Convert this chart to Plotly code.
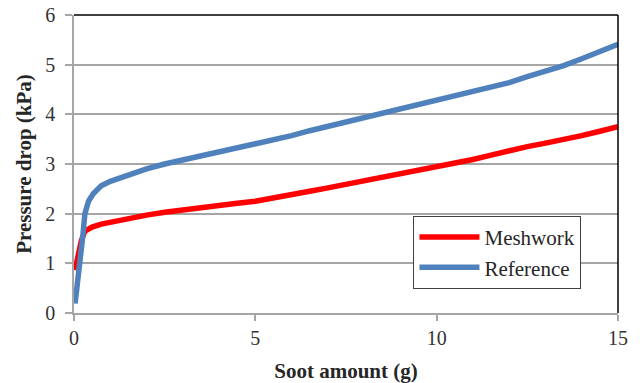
import plotly.graph_objects as go

# Soot loading (g) and measured pressure drop (kPa)
soot_ref = [0.03, 0.1, 0.17, 0.25, 0.3, 0.4, 0.53, 0.75, 1.0, 1.5, 2.0, 2.5, 3.0, 3.5,
            4.0, 4.5, 5.0, 5.5, 6.0, 6.5, 7.0, 7.5, 8.0, 8.5, 9.0, 9.5, 10.0, 10.5,
            11.0, 11.5, 12.0, 12.5, 13.0, 13.5, 14.0, 14.5, 15.0]
dp_ref = [0.19, 0.6, 1.0, 1.6, 2.0, 2.25, 2.4, 2.56, 2.65, 2.78, 2.9, 3.0, 3.08, 3.16,
          3.24, 3.31, 3.39, 3.48, 3.57, 3.67, 3.76, 3.85, 3.94, 4.03, 4.12, 4.2, 4.28,
          4.37, 4.46, 4.55, 4.64, 4.76, 4.87, 4.98, 5.12, 5.27, 5.41]

soot_mesh = [0.03, 0.1, 0.2, 0.3, 0.5, 0.75, 1.0, 1.5, 2.0, 2.5, 3.0, 3.5, 4.0, 4.5,
             5.0, 5.5, 6.0, 6.5, 7.0, 7.5, 8.0, 8.5, 9.0, 9.5, 10.0, 10.5, 11.0, 11.5,
             12.0, 12.5, 13.0, 13.5, 14.0, 14.5, 15.0]
dp_mesh = [0.86, 1.15, 1.45, 1.65, 1.73, 1.79, 1.83, 1.9, 1.97, 2.03, 2.08, 2.13, 2.17,
           2.21, 2.25, 2.31, 2.38, 2.45, 2.52, 2.59, 2.66, 2.73, 2.8, 2.87, 2.93, 3.0,
           3.09, 3.18, 3.27, 3.35, 3.42, 3.49, 3.57, 3.66, 3.75]

x_ticks = [0, 5, 10, 15]
y_ticks = [0, 1, 2, 3, 4, 5, 6]

FONT = "Liberation Serif"
GRID = "#a6a6a6"
TEXT = "#262626"

fig = go.Figure()
fig.add_trace(go.Scatter(x=soot_mesh, y=dp_mesh, mode="lines", name="Meshwork",
                         line=dict(color="#ff0000", width=5.5)))
fig.add_trace(go.Scatter(x=soot_ref, y=dp_ref, mode="lines", name="Reference",
                         line=dict(color="#4f81bd", width=5.5)))

fig.update_layout(
    width=640, height=383,
    margin=dict(l=74, r=22, t=15, b=70),
    paper_bgcolor="white", plot_bgcolor="white",
    font=dict(family=FONT, size=20, color="#333333"),
    showlegend=True,
    legend=dict(x=0.624, y=0.326, xanchor="left", yanchor="top",
                bgcolor="white", bordercolor="#404040", borderwidth=1,
                font=dict(family=FONT, size=21, color=TEXT),
                tracegroupgap=0, itemwidth=60),
    xaxis=dict(range=[0, 15], tickvals=x_ticks, showgrid=False, zeroline=False,
               automargin=False,
               showline=True, linecolor=GRID, linewidth=1.5,
               ticks="outside", ticklen=6, tickcolor=GRID, tickwidth=1.5,
               tickfont=dict(family=FONT, size=20, color="#333333"),
               title=dict(text="<b>Soot amount (g)</b>", standoff=16,
                          font=dict(family=FONT, size=21, color=TEXT))),
    yaxis=dict(range=[0, 6], tickvals=y_ticks, showgrid=True, gridcolor=GRID,
               gridwidth=1.5, zeroline=False, automargin=False,
               showline=True, linecolor=GRID, linewidth=1.5,
               ticks="outside", ticklen=7, tickcolor=GRID, tickwidth=1.5,
               ticklabelstandoff=6,
               tickfont=dict(family=FONT, size=20, color="#333333"),
               title=dict(text="<b>Pressure drop (kPa)</b>", standoff=8,
                          font=dict(family=FONT, size=21, color=TEXT))),
    shapes=[
        dict(type="line", xref="paper", yref="paper", x0=0, x1=1, y0=1, y1=1,
             line=dict(color="#000000", width=1.5)),
        dict(type="line", xref="paper", yref="paper", x0=1, x1=1, y0=0, y1=1,
             line=dict(color="#000000", width=1.5)),
    ],
)

fig.write_html("out.html")
